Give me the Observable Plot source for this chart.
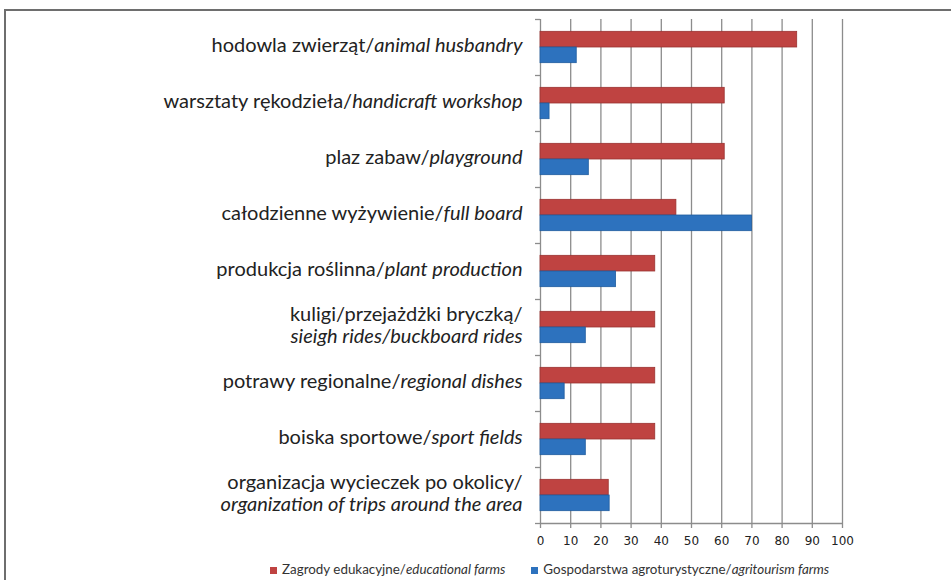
<!DOCTYPE html>
<html>
<head>
<meta charset="utf-8">
<script src="https://cdn.jsdelivr.net/npm/d3@7"></script>
<script src="https://cdn.jsdelivr.net/npm/@observablehq/plot@0.6"></script>
<style>
  html, body { margin: 0; padding: 0; background: #fff; overflow: hidden; }
  #wrap { position: relative; width: 951px; height: 580px; }
  #frame { position: absolute; left: 4px; top: 9px; width: 1200px; height: 900px;
           border-top: 2px solid #6e6e6e; border-left: 2px solid #6e6e6e; box-sizing: border-box; }
  #chart { position: absolute; left: 0; top: 0; }
  #legend { position: absolute; left: 0; top: 557px; width: 951px; height: 24px;
            font-family: Lato, sans-serif; font-size: 13.4px; color: #333;
            display: flex; align-items: center; padding-left: 270px; box-sizing: border-box; }
  #legend .item { display: flex; align-items: center; margin-right: 26px; white-space: nowrap; }
  #legend .sw { width: 7px; height: 7px; margin-right: 5px; margin-top: 3px; }
</style>
</head>
<body>
<div id="wrap">
  <div id="frame"></div>
  <div id="chart"></div>
  <div id="legend"></div>
</div>
<script>
// ---- data ----
const labelsPl = [
  "hodowla zwierząt/",
  "warsztaty rękodzieła/",
  "plaz zabaw/",
  "całodzienne wyżywienie/",
  "produkcja roślinna/",
  "kuligi/przejażdżki bryczką/\n",
  "potrawy regionalne/",
  "boiska sportowe/",
  "organizacja wycieczek po okolicy/\n"
];
const labelsEn = [
  "animal husbandry",
  "handicraft workshop",
  "playground",
  "full board",
  "plant production",
  "sieigh rides/buckboard rides",
  "regional dishes",
  "sport fields",
  "organization of trips around the area"
];
const educational = [85, 61, 61, 45, 38, 38, 38, 38, 22.6];
const agritourism = [12, 3, 16, 70, 25, 15, 8, 15, 22.9];
const seriesPl = ["Zagrody edukacyjne/", "Gospodarstwa agroturystyczne/"];
const seriesEn = ["educational farms", "agritourism farms"];
const xTicks = [0, 10, 20, 30, 40, 50, 60, 70, 80, 90, 100];

// ---- styling ----
const colors = ["#BF4341", "#2D72BE"];
const strokes = ["#9A3331", "#1F5C9E"];
const barStart = [0.22, 0.5];
const barSpan = 0.28;

const idx = d3.range(labelsPl.length);
const rowsEdu = idx.map(i => ({i, v: educational[i]}));
const rowsAgr = idx.map(i => ({i, v: agritourism[i]}));

const plot = Plot.plot({
  width: 951,
  height: 557,
  marginTop: 19,
  marginBottom: 34,
  marginLeft: 540,
  marginRight: 109,
  style: {fontFamily: "Lato, sans-serif", fontSize: "20px", color: "#222", background: "transparent", overflow: "visible"},
  x: {domain: [0, 100], axis: null, label: null},
  y: {domain: [0, labelsPl.length], reverse: true, axis: null, label: null},
  marks: [
    Plot.ruleX(xTicks, {stroke: "#8c8c8c", strokeWidth: 1.3, insetBottom: -5}),
    Plot.ruleY([labelsPl.length], {stroke: "#8c8c8c", strokeWidth: 1.3}),
    Plot.axisY(d3.range(labelsPl.length + 1), {anchor: "left", tickSize: 5, tickFormat: () => "", label: null, stroke: "#8c8c8c", strokeWidth: 1.3}),
    Plot.rectX(rowsEdu, {x1: 0, x2: "v", y1: d => d.i + barStart[0], y2: d => d.i + barStart[0] + barSpan,
      fill: colors[0], stroke: strokes[0], strokeWidth: 0.8}),
    Plot.rectX(rowsAgr, {x1: 0, x2: "v", y1: d => d.i + barStart[1], y2: d => d.i + barStart[1] + barSpan,
      fill: colors[1], stroke: strokes[1], strokeWidth: 0.8}),
    Plot.axisX(xTicks, {anchor: "bottom", tickSize: 0, tickPadding: 13, fontSize: 12, label: null,
      fontFamily: "DejaVu Sans, sans-serif", fill: "#222"}),
    Plot.text(idx, {x: 0, y: i => i + 0.5, text: i => labelsPl[i] + labelsEn[i],
      textAnchor: "end", lineAnchor: "middle", lineHeight: 1.1, dx: -18, dy: -3,
      fontSize: 20, fill: "#222"})
  ]
});

// italicise English parts of labels
const ns = "http://www.w3.org/2000/svg";
plot.querySelectorAll('g[aria-label="text"] text').forEach((t, i) => {
  const full = labelsPl[i] + labelsEn[i];
  const cut = labelsPl[i].length;
  const lines = full.split("\n");
  const spans = Array.from(t.children).filter(c => c.tagName.toLowerCase() === "tspan");
  const lineEls = spans.length ? spans : [t];
  let pos = 0;
  lines.forEach((line, k) => {
    const el = lineEls[k];
    if (!el) return;
    el.textContent = "";
    const nLen = Math.max(0, Math.min(line.length, cut - pos));
    const normal = line.slice(0, nLen);
    const ital = line.slice(nLen);
    if (normal) { const s = document.createElementNS(ns, "tspan"); s.textContent = normal; el.appendChild(s); }
    if (ital) { const s = document.createElementNS(ns, "tspan"); s.setAttribute("font-style", "italic"); s.textContent = ital; el.appendChild(s); }
    pos += line.length + 1;
  });
});

document.getElementById("chart").appendChild(plot);

// legend
const legend = d3.select("#legend");
seriesPl.forEach((p, k) => {
  const item = legend.append("div").attr("class", "item");
  item.append("div").attr("class", "sw").style("background", colors[k]);
  const lab = item.append("span");
  lab.append("span").text(p);
  lab.append("span").style("font-style", "italic").text(seriesEn[k]);
});
</script>
</body>
</html>
